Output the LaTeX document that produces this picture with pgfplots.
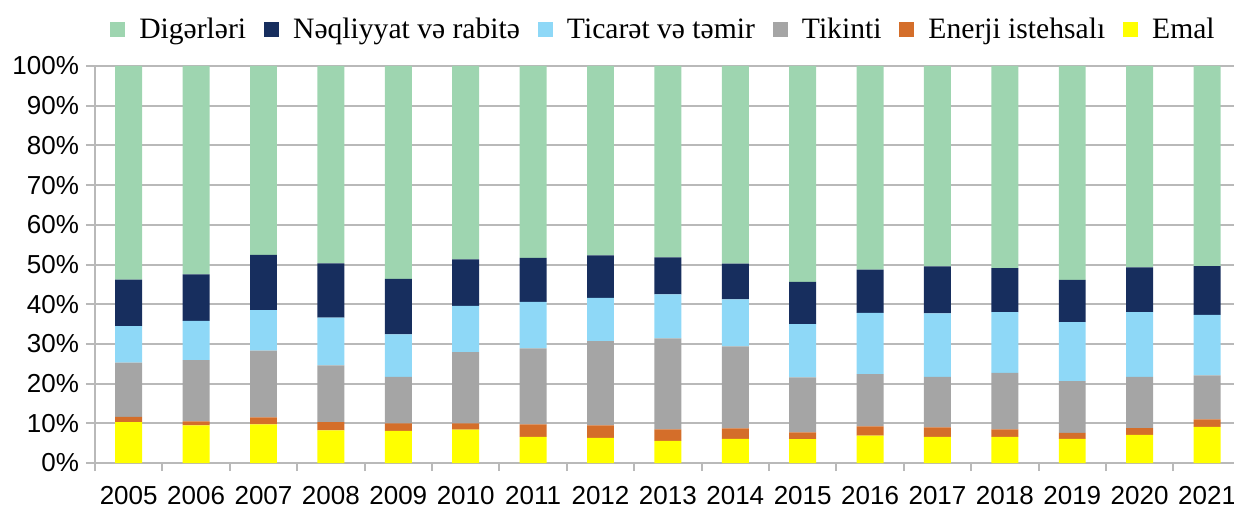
\documentclass[border=0pt]{standalone}
\usepackage{pgfplots}
\usepackage{pgfplotstable}
\pgfplotsset{compat=1.18}
\usepackage{fontspec}
\setmainfont{Liberation Sans}
\newfontfamily\legfont{Liberation Serif}

\definecolor{cDig}{RGB}{158,213,176}
\definecolor{cNeq}{RGB}{23,46,94}
\definecolor{cTic}{RGB}{142,216,247}
\definecolor{cTik}{RGB}{165,165,165}
\definecolor{cEne}{RGB}{212,110,42}
\definecolor{cEma}{RGB}{255,255,0}
\definecolor{cGrid}{RGB}{185,185,185}

% shares in percent, bottom to top
\pgfplotstableread{
x  emal enerji tikinti ticaret neqliyyat diger
0  10.3 1.3 13.7  9.2 11.7 53.8
1   9.5 1.0 15.4  9.9 11.7 52.5
2   9.7 1.8 16.8 10.2 13.9 47.6
3   8.2 2.1 14.3 12.0 13.7 49.7
4   8.1 1.9 11.7 10.7 14.0 53.6
5   8.4 1.6 17.9 11.7 11.7 48.7
6   6.6 3.1 19.2 11.7 11.1 48.3
7   6.3 3.2 21.2 10.9 10.7 47.7
8   5.6 2.9 22.9 11.1  9.3 48.2
9   6.1 2.6 20.7 11.8  9.0 49.8
10  6.0 1.7 13.9 13.4 10.6 54.4
11  6.9 2.3 13.2 15.4 10.9 51.3
12  6.6 2.4 12.7 16.0 11.8 50.5
13  6.6 1.9 14.2 15.3 11.1 50.9
14  6.1 1.5 13.0 14.9 10.6 53.9
15  7.1 1.7 12.9 16.3 11.3 50.7
16  9.1 1.9 11.1 15.2 12.3 50.4
}\shares

\begin{document}
\begin{tikzpicture}
\begin{axis}[
    scale only axis,
    width=569.5pt, height=198.5pt,
    ybar stacked,
    bar width=0.4,
    xmin=-0.5, xmax=16.4,
    ymin=0, ymax=100,
    xtick={0,...,16},
    xticklabels={2005,2006,2007,2008,2009,2010,2011,2012,2013,2014,2015,2016,2017,2018,2019,2020,2021},
    minor xtick={-0.5,0.5,...,16.5},
    ytick={0,10,...,100},
    yticklabel={\pgfmathprintnumber{\tick}\%},
    /pgf/number format/assume math mode=true,
    tick label style={font=\fontsize{13}{15}\selectfont},
    xticklabel style={yshift=-3.5pt},
    axis x line*=bottom,
    axis y line*=left,
    axis line style={cGrid, line width=1pt},
    ymajorgrids,
    major grid style={cGrid, line width=1pt},
    tick align=outside,
    x tick style={draw=none},
    minor x tick style={draw=cGrid, line width=1pt},
    minor tick length=4pt,
    y tick style={cGrid, line width=1pt},
    major tick length=4.5pt,
    legend style={
      at={(0.5,1)}, anchor=south, yshift=8pt,
      draw=none, fill=none,
      legend columns=-1,
      font=\legfont\fontsize{14.8}{17}\selectfont,
      /tikz/every odd column/.append style={column sep=5pt},
      /tikz/every even column/.append style={column sep=7pt},
    },
    reverse legend,
    legend image code/.code={\fill[#1] (0pt,-3.75pt) rectangle (7.5pt,3.75pt);},
  ]
  \addplot[fill=cEma, draw=none] table[x=x, y=emal] {\shares};
  \addplot[fill=cEne, draw=none] table[x=x, y=enerji] {\shares};
  \addplot[fill=cTik, draw=none] table[x=x, y=tikinti] {\shares};
  \addplot[fill=cTic, draw=none] table[x=x, y=ticaret] {\shares};
  \addplot[fill=cNeq, draw=none] table[x=x, y=neqliyyat] {\shares};
  \addplot[fill=cDig, draw=none] table[x=x, y=diger] {\shares};
  \legend{Emal, Enerji istehsalı, Tikinti, Ticarət və təmir, Nəqliyyat və rabitə, Digərləri}
\end{axis}
\pgfresetboundingbox
\path[use as bounding box] ([xshift=-47.5pt,yshift=-23pt]current axis.south west)
  rectangle ([yshift=33pt]current axis.north east);
\end{tikzpicture}
\end{document}
